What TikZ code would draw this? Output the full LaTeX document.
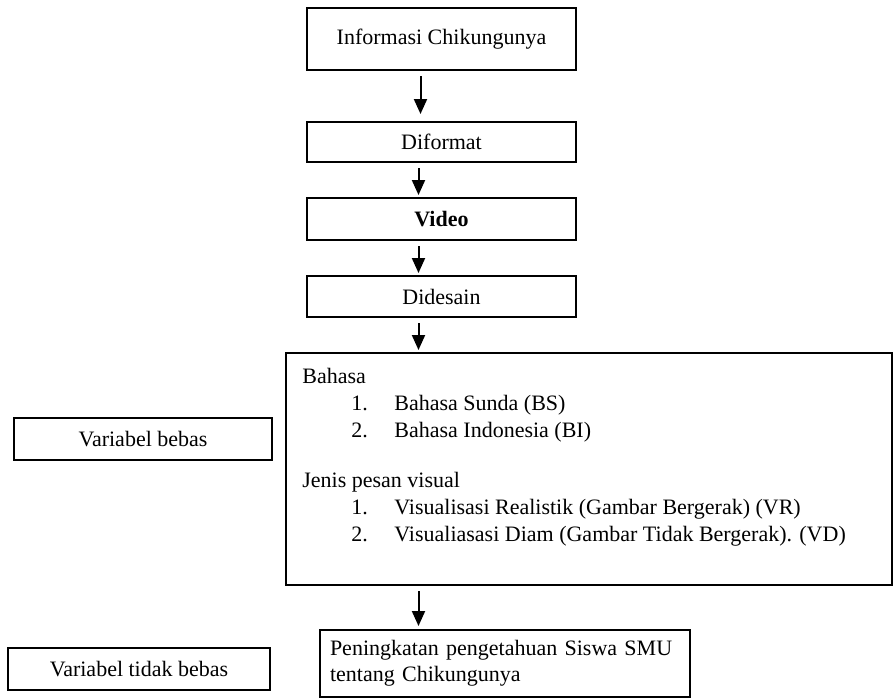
\documentclass[tikz,border=0pt]{standalone}
\usepackage{fontspec}
\setmainfont{Liberation Serif}
\usepackage{tikz}
\usetikzlibrary{calc,arrows.meta}

\tikzset{
  kotak/.style = {draw, line width=1pt, inner sep=0pt, font=\fontsize{11}{13.5}\selectfont},
  panah/.style = {line width=1pt, -{Triangle[width=6.5pt,length=7.5pt]}, shorten <=2.5pt, shorten >=1pt},
}

\begin{document}
\begin{tikzpicture}[x=0.5pt, y=-0.5pt]
      \useasboundingbox (0,0) rectangle (894,698);

      \node[kotak, minimum width=134.5pt, minimum height=31pt] (info) at (441.5,39) {Informasi Chikungunya};
      \node[kotak, minimum width=134.5pt, minimum height=20pt] (diformat) at ($ (info) + (0,103) $) {Diformat};
      \node[kotak, minimum width=134.5pt, minimum height=21pt] (video) at ($ (diformat) + (0,77) $) {\bfseries Video};
      \node[kotak, minimum width=134.5pt, minimum height=20.5pt] (didesain) at ($ (video) + (0,77.5) $) {Didesain};

      \node[kotak, minimum width=303pt, minimum height=116pt] (faktor) at (589,469) {};
      \node[anchor=north west, align=left, inner sep=0pt, font=\fontsize{11}{13.5}\selectfont] (isi)
        at ($ (faktor.north west) + (17,16) $)
        {Bahasa\\
         \hspace*{24.5pt}\makebox[21.5pt][l]{1.}Bahasa Sunda (BS)\\
         \hspace*{24.5pt}\makebox[21.5pt][l]{2.}Bahasa Indonesia (BI)\\[11.5pt]
         Jenis pesan visual\\
         \hspace*{24.5pt}\makebox[21.5pt][l]{1.}Visualisasi Realistik (Gambar Bergerak) (VR)\\
         \hspace*{24.5pt}\makebox[21.5pt][l]{2.}Visualiasasi Diam (Gambar Tidak Bergerak). (VD)};

      \node[kotak, minimum width=185pt, minimum height=33.5pt, text width=175pt, align=left, inner xsep=5pt,
        font=\fontsize{11}{13}\selectfont] (hasil) at (505,663.5)
        {Peningkatan pengetahuan Siswa SMU\\tentang Chikungunya};

      \node[kotak, minimum width=129pt, minimum height=21pt] (bebas) at (143,439) {Variabel bebas};
      \node[kotak, minimum width=131pt, minimum height=21pt] (tidakbebas) at (139,669) {Variabel tidak bebas};

      \coordinate (p1) at ($ (info.south) + (-21,0) $);
      \coordinate (p2) at ($ (diformat.south) + (-23,0) $);
      \coordinate (p3) at ($ (video.south) + (-23,0) $);
      \coordinate (p4) at ($ (didesain.south) + (-23,0) $);
      \coordinate (p5) at (p4 |- faktor.south);

      \draw[panah, shorten >=3.5pt] (p1) -- (p1 |- diformat.north);
      \draw[panah] (p2) -- (p2 |- video.north);
      \draw[panah] (p3) -- (p3 |- didesain.north);
      \draw[panah] (p4) -- (p4 |- faktor.north);
      \draw[panah, shorten >=1.5pt] (p5) -- (p5 |- hasil.north);
    \end{tikzpicture}
\end{document}
